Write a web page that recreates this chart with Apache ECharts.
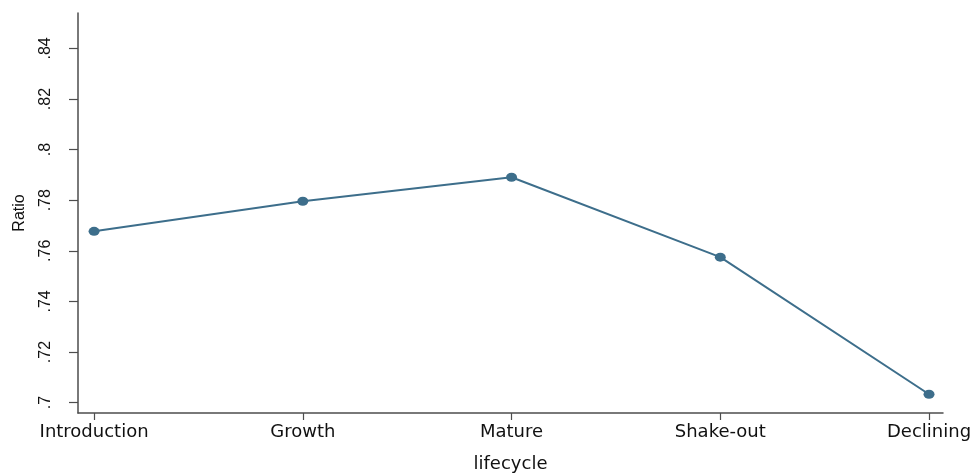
<!DOCTYPE html>
<head>
    <meta charset="utf-8"/>
    <style>
        html,body { height:100%; width:100%; margin:0; padding:0; background:#fff; }
    </style>
</head>
<body>

<div id="line" style="width: 973px;height:473px"></div>

<script src="https://cdn.jsdelivr.net/npm/echarts@6/dist/echarts.min.js"></script>
<script type="text/javascript">

 // data
 var stages = ['Introduction', 'Growth', 'Mature', 'Shake-out', 'Declining'];
 var ratio = [0.7677, 0.7796, 0.7891, 0.7575, 0.7033];
 var yTicks = [0.70, 0.72, 0.74, 0.76, 0.78, 0.80, 0.82, 0.84];
 var xTicks = [1, 2, 3, 4, 5];

 var axisColor = '#4d4d4d';
 var lineColor = '#3d6e8b';

 var points = [];
 for (var i = 0; i < stages.length; i++) {
     points.push([i + 1, ratio[i]]);
 }

 var lineChart = echarts.init(document.getElementById('line'));

 var lineOptions = {
    animation: false,
    grid: {
        left: 78,
        right: 30,
        top: 13,
        bottom: 60,
        containLabel: false,
        outerBoundsMode: 'none'
    },
    xAxis: {
        type: 'value',
        min: 0.923,
        max: 5.067,
        name: 'lifecycle',
        nameLocation: 'middle',
        nameGap: 42,
        nameTextStyle: { fontFamily: 'DejaVu Sans', fontSize: 18, color: '#111' },
        axisLine: { lineStyle: { color: axisColor, width: 1.5 } },
        axisTick: { customValues: xTicks, length: 7, lineStyle: { color: axisColor, width: 1.2 } },
        axisLabel: {
            customValues: xTicks,
            margin: 10,
            fontFamily: 'DejaVu Sans',
            fontSize: 18,
            color: '#111',
            formatter: function (v) { return stages[Math.round(v) - 1]; }
        },
        splitLine: { show: false }
    },
    yAxis: {
        type: 'value',
        min: 0.6959,
        max: 0.854,
        name: 'Ratio',
        nameLocation: 'middle',
        nameRotate: 90,
        nameGap: 50,
        nameTextStyle: { fontFamily: 'Liberation Sans', fontSize: 16, color: '#111' },
        axisLine: { show: true, lineStyle: { color: axisColor, width: 1.5 } },
        axisTick: { show: true, inside: false, customValues: yTicks, length: 9, lineStyle: { color: axisColor, width: 1.2 } },
        axisLabel: {
            customValues: yTicks,
            rotate: 90,
            margin: 24,
            fontFamily: 'Liberation Sans',
            fontSize: 16,
            color: '#111',
            formatter: function (v) { return String(+v.toFixed(2)).replace(/^0/, ''); }
        },
        splitLine: { show: false }
    },
    series: [
        {
            name: 'Ratio',
            type: 'line',
            data: points,
            symbol: 'circle',
            symbolSize: [11, 9],
            lineStyle: { color: lineColor, width: 2 },
            itemStyle: { color: lineColor }
        }
    ]
 };

 lineChart.setOption(lineOptions);
</script>
</body>
